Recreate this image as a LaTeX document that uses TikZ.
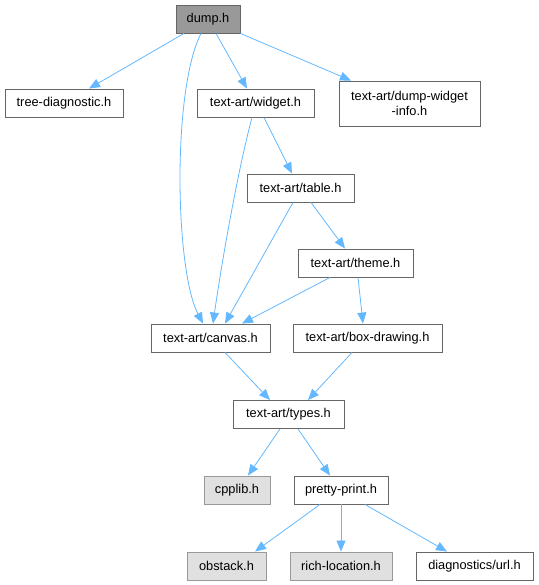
\documentclass[tikz,border=0pt]{standalone}
\usepackage{fontspec}
\setmainfont{Liberation Sans}
\usepackage{tikz}
\usetikzlibrary{positioning,arrows.meta}
\definecolor{edgeblue}{HTML}{63B8FF}
\definecolor{boxline}{HTML}{666666}
\definecolor{sysline}{HTML}{999999}
\definecolor{sysfill}{HTML}{E0E0E0}
\definecolor{mainfill}{HTML}{999999}

\begin{document}
\begin{tikzpicture}[x=1pt, y=-1pt, ->, >={Triangle[length=11pt, width=9pt]},
  file/.style = {rectangle, draw=boxline, fill=white, line width=0.9pt, minimum height=28pt, inner sep=0pt, align=center, font=\fontsize{12.8}{15}\selectfont},
  sysfile/.style = {file, draw=sysline, fill=sysfill},
  every edge/.append style={draw=edgeblue, line width=0.8pt}]

\useasboundingbox (0,0) rectangle (538,585);

\node[file, fill=mainfill, minimum width=64pt] (dump) at (208,19) {dump.h};
\node[file, minimum width=118pt] (tree) at (64,103) {tree-diagnostic.h};
\node[file, minimum width=117pt] (widget) at (255.5,103) {text-art/widget.h};
\node[file, minimum width=141pt, minimum height=45pt] (dwinfo) at (409.5,103.5) {text-art/dump-widget\\-info.h};
\node[file, minimum width=107pt] (table) at (300.5,188) {text-art/table.h};
\node[file, minimum width=115pt] (theme) at (355.5,263) {text-art/theme.h};
\node[file, minimum width=119pt] (canvas) at (210.5,338) {text-art/canvas.h};
\node[file, minimum width=149pt] (boxdraw) at (367.5,338) {text-art/box-drawing.h};
\node[file, minimum width=111pt] (types) at (288.5,414.5) {text-art/types.h};
\node[sysfile, minimum width=66pt] (cpplib) at (237,490) {cpplib.h};
\node[file, minimum width=94pt] (pretty) at (341,490) {pretty-print.h};
\node[sysfile, minimum width=79pt] (obstack) at (226.5,566) {obstack.h};
\node[sysfile, minimum width=102pt] (richloc) at (341,566) {rich-location.h};
\node[file, minimum width=117pt] (url) at (474.5,566) {diagnostics/url.h};

% dump.h
\path ([xshift=-24]dump.south) edge ([xshift=25]tree.north);
\path ([xshift=-7]dump.south) edge[to path={.. controls (172,90) and (175,270) .. (\tikztotarget)}] ([xshift=-7.5]canvas.north);
\path ([xshift=8]dump.south) edge ([xshift=-8.5]widget.north);
\path (dump.south east) edge ([xshift=-58.5]dwinfo.north);

% widget and table
\path ([xshift=-3.5]widget.south) edge[to path={.. controls (238,170) and (222,260) .. (\tikztotarget)}] ([xshift=2.5]canvas.north);
\path ([xshift=8.5]widget.south) edge ([xshift=-8.5]table.north);
\path ([xshift=-7.5]table.south) edge ([xshift=14.5]canvas.north);
\path ([xshift=10.5]table.south) edge ([xshift=-10.5]theme.north);

% theme
\path ([xshift=-25.5]theme.south) edge ([xshift=31.5]canvas.north);
\path ([xshift=2.5]theme.south) edge ([xshift=-4.5]boxdraw.north);

% canvas and box drawing
\path ([xshift=14.5]canvas.south) edge ([xshift=-18.5]types.north);
\path ([xshift=-15.5]boxdraw.south) edge ([xshift=19.5]types.north);

% types and pretty-print
\path ([xshift=-8.5]types.south) edge ([xshift=11]cpplib.north);
\path ([xshift=9.5]types.south) edge ([xshift=-11]pretty.north);
\path ([xshift=-21]pretty.south) edge ([xshift=28.5]obstack.north);
\path (pretty.south) edge (richloc.north);
\path ([xshift=24]pretty.south) edge ([xshift=-27.5]url.north);
\end{tikzpicture}
\end{document}
